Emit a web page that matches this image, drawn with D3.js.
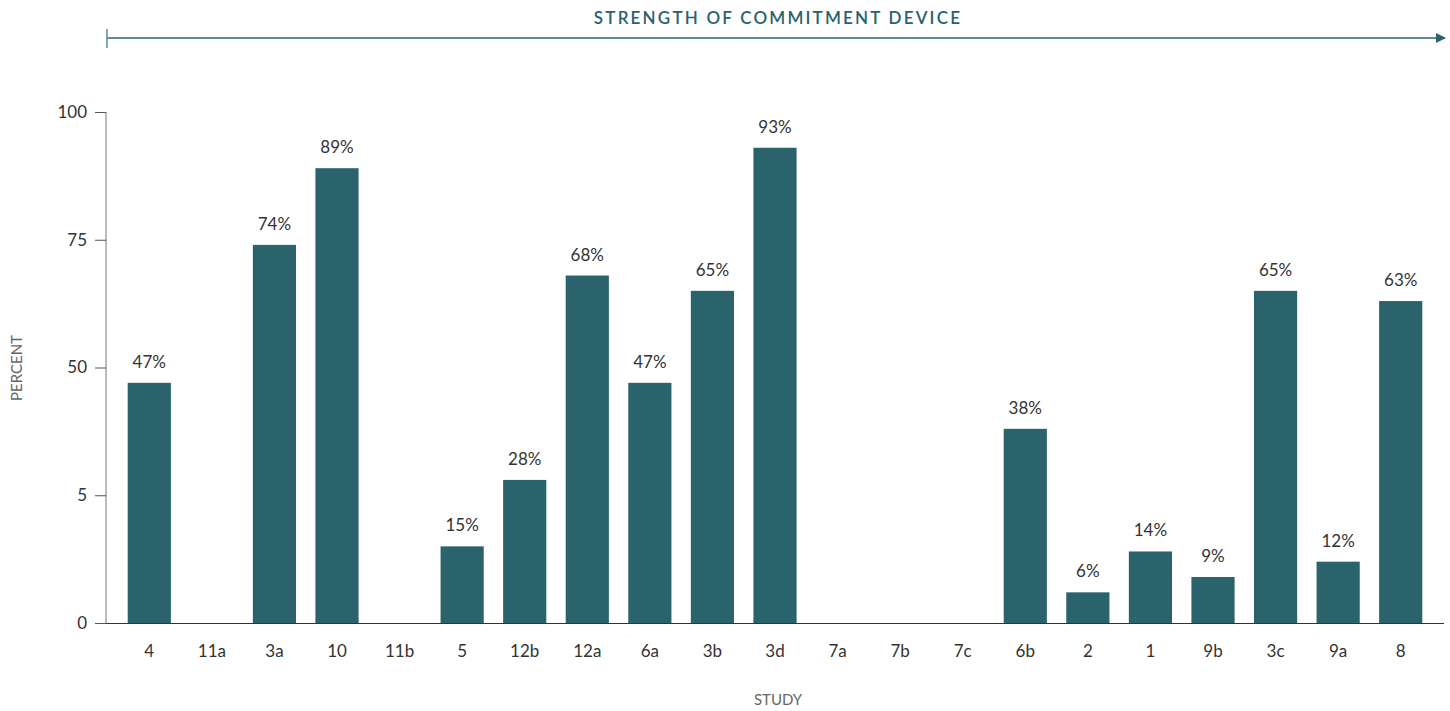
<!DOCTYPE html>
<html><head><meta charset="utf-8">
<script src="https://cdn.jsdelivr.net/npm/d3@7"></script>
<style>body{margin:0;background:#fff}svg{display:block}text{font-family:Lato,"Open Sans",sans-serif}</style>
</head><body><svg id="c" width="1450" height="711"></svg>
<script>
const categories = ["4","11a","3a","10","11b","5","12b","12a","6a","3b","3d","7a","7b","7c","6b","2","1","9b","3c","9a","8"];
const values = [47,0,74,89,0,15,28,68,47,65,93,0,0,0,38,6,14,9,65,12,63];
const tickValues = [0,25,50,75,100];
const tickLabels = ["0","5","50","75","100"];
const barColor = "#2a636c";

const svg = d3.select("#c");
const x = d3.scaleBand().domain(categories).range([118,1432]).paddingInner(0.31).paddingOuter(0.155);
const y = d3.scaleLinear().domain([0,100]).range([623,112]);

// top arrow
svg.append("defs").append("marker").attr("id","arr").attr("viewBox","0 0 10 10").attr("refX",9).attr("refY",5)
  .attr("markerWidth",10).attr("markerHeight",10).attr("markerUnits","userSpaceOnUse").attr("orient","auto")
  .append("path").attr("d","M0,0L10,5L0,10Z").attr("fill",barColor);
svg.append("line").attr("x1",107).attr("x2",1445).attr("y1",38).attr("y2",38).attr("stroke",barColor).attr("stroke-width",1.5).attr("marker-end","url(#arr)");
svg.append("line").attr("x1",107).attr("x2",107).attr("y1",29).attr("y2",48).attr("stroke","#5c8a92").attr("stroke-width",1.5);
svg.append("text").attr("x",778).attr("y",24).attr("text-anchor","middle").attr("fill",barColor)
  .attr("font-size",17).attr("font-weight",600).attr("letter-spacing",2.2).text("STRENGTH OF COMMITMENT DEVICE");

// y axis
const ya = svg.append("g").attr("transform","translate(106,0)")
  .call(d3.axisLeft(y).tickValues(tickValues).tickFormat((d,i)=>tickLabels[i]).tickSize(11).tickPadding(8));
ya.select(".domain").attr("stroke","#777").attr("d","M0,"+y(100)+"V"+y(0));
ya.selectAll(".tick line").attr("stroke","#555");
ya.selectAll(".tick text").attr("font-size",17).attr("fill","#333");

// bars
svg.selectAll("rect.bar").data(values).join("rect").attr("class","bar")
  .attr("x",(d,i)=>x(categories[i])).attr("width",x.bandwidth())
  .attr("y",d=>y(d)).attr("height",d=>y(0)-y(d)).attr("fill",barColor);

// x axis
const xa = svg.append("g").attr("transform","translate(0,623)")
  .call(d3.axisBottom(x).tickSize(0).tickPadding(22));
xa.select(".domain").attr("stroke","#333").attr("d","M106,0.5H1444");
xa.selectAll(".tick text").attr("font-size",17).attr("fill","#333");

// value labels
svg.selectAll("text.val").data(values.map((v,i)=>({v,i})).filter(d=>d.v>0)).join("text").attr("class","val")
  .attr("x",d=>x(categories[d.i])+x.bandwidth()/2).attr("y",d=>y(d.v)-15)
  .attr("text-anchor","middle").attr("font-size",17).attr("fill","#333").text(d=>d.v+"%");

// axis titles
svg.append("text").attr("transform","translate(22,368) rotate(-90)").attr("text-anchor","middle")
  .attr("font-size",15).attr("fill","#666").text("PERCENT");
svg.append("text").attr("x",778).attr("y",705).attr("text-anchor","middle")
  .attr("font-size",15).attr("fill","#666").text("STUDY");
</script></body></html>
